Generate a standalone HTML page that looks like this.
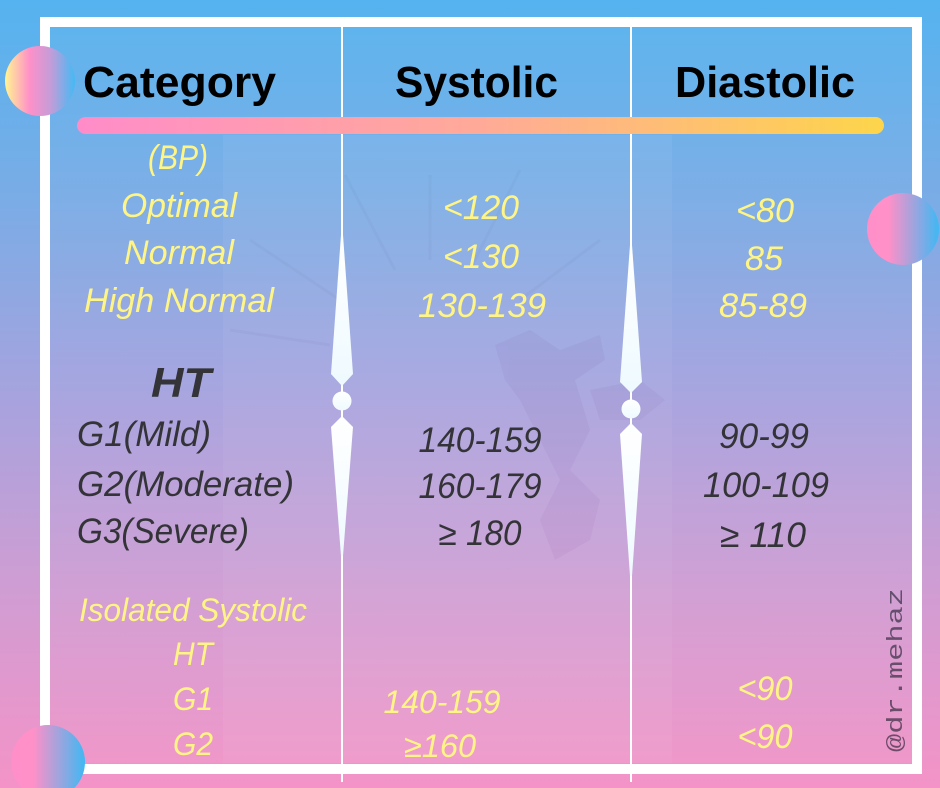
<!DOCTYPE html>
<html><head><meta charset="utf-8"><style>
html,body{margin:0;padding:0;width:940px;height:788px;overflow:hidden;}
svg{display:block;}
</style></head><body>
<svg width="940" height="788" viewBox="0 0 940 788" xmlns="http://www.w3.org/2000/svg">
<defs>
<linearGradient id="bg" x1="0" y1="0" x2="0" y2="1">
<stop offset="0" stop-color="#55b3ef"/>
<stop offset="0.25" stop-color="#7aace6"/>
<stop offset="0.5" stop-color="#a6a3de"/>
<stop offset="0.75" stop-color="#d09dd3"/>
<stop offset="1" stop-color="#f493c7"/>
</linearGradient>
<linearGradient id="bar" x1="0" y1="0" x2="1" y2="0">
<stop offset="0" stop-color="#ff8cc9"/>
<stop offset="0.5" stop-color="#ffaa98"/>
<stop offset="1" stop-color="#fdd54b"/>
</linearGradient>
<linearGradient id="c1" x1="0" y1="0" x2="1" y2="0">
<stop offset="0" stop-color="#fff592"/>
<stop offset="0.35" stop-color="#ff90c8"/>
<stop offset="0.65" stop-color="#c59cd8"/>
<stop offset="1" stop-color="#45b9f3"/>
</linearGradient>
<linearGradient id="c2" x1="0" y1="0" x2="1" y2="0">
<stop offset="0" stop-color="#ff8fc8"/>
<stop offset="0.3" stop-color="#ff90c8"/>
<stop offset="1" stop-color="#3fb8f3"/>
</linearGradient>
<linearGradient id="sp" x1="0" y1="0" x2="0" y2="1">
<stop offset="0" stop-color="#ffffff"/>
<stop offset="1" stop-color="#eefaff"/>
</linearGradient>
</defs>
<rect x="0" y="0" width="940" height="788" fill="url(#bg)"/>
<rect x="50" y="27" width="862" height="736" fill="#ffffff" opacity="0.03"/>
<rect x="223" y="135" width="449" height="628" fill="#ffffff" opacity="0.05"/>
<g opacity="0.05" stroke="#5a5a8a" stroke-width="3" fill="none">
<line x1="345" y1="175" x2="395" y2="270"/>
<line x1="430" y1="175" x2="430" y2="260"/>
<line x1="520" y1="170" x2="470" y2="270"/>
<line x1="250" y1="240" x2="340" y2="300"/>
<line x1="230" y1="330" x2="330" y2="345"/>
<line x1="600" y1="240" x2="520" y2="300"/>
</g>
<g opacity="0.07" fill="#7a4a9a">
<path d="M495 345 L530 330 L560 350 L600 335 L605 360 L575 380 L590 430 L570 470 L600 500 L590 540 L555 560 L540 520 L560 480 L540 440 L520 400 L505 380 Z"/>
<path d="M590 390 L640 380 L665 400 L640 420 L600 420 Z"/>
</g>
<rect x="45" y="22" width="872" height="747" fill="none" stroke="#ffffff" stroke-width="10"/>
<rect x="341" y="27" width="2" height="755" fill="#ffffff"/>
<rect x="630" y="27" width="2" height="755" fill="#ffffff"/>
<g fill="url(#sp)">
<polygon points="341,235 343,235 353,374 342,386 331,374"/>
<circle cx="342" cy="401" r="9.5"/>
<polygon points="342,416 353,427 343,556 341,556 331,427"/>
<polygon points="630,245 632,245 642,382 631,393 620,382"/>
<circle cx="631" cy="409" r="9.5"/>
<polygon points="631,423 642,434 632,576 630,576 620,434"/>
</g>
<rect x="77" y="117" width="807" height="17" rx="8.5" fill="url(#bar)"/>
<circle cx="40" cy="81" r="35" fill="url(#c1)"/>
<circle cx="903" cy="229" r="36" fill="url(#c2)"/>
<circle cx="48" cy="762" r="37" fill="url(#c2)"/>
<g font-family="Liberation Sans, sans-serif" font-weight="bold" font-size="44" fill="#000">
<text x="83" y="97" textLength="193" lengthAdjust="spacingAndGlyphs">Category</text>
<text x="395" y="97" textLength="163" lengthAdjust="spacingAndGlyphs">Systolic</text>
<text x="675" y="97" textLength="180" lengthAdjust="spacingAndGlyphs">Diastolic</text>
</g>
<g font-family="Liberation Sans, sans-serif" font-style="italic" fill="#fff585" font-size="34" text-anchor="middle">
<text x="178" y="169" textLength="60" lengthAdjust="spacingAndGlyphs">(BP)</text>
<text x="179" y="217" textLength="116" lengthAdjust="spacingAndGlyphs">Optimal</text>
<text x="179" y="264" textLength="110" lengthAdjust="spacingAndGlyphs">Normal</text>
<text x="179" y="312" textLength="190" lengthAdjust="spacingAndGlyphs">High Normal</text>
<text x="481" y="219" textLength="76" lengthAdjust="spacingAndGlyphs">&lt;120</text>
<text x="481" y="268" textLength="76" lengthAdjust="spacingAndGlyphs">&lt;130</text>
<text x="482" y="317" textLength="128" lengthAdjust="spacingAndGlyphs">130-139</text>
<text x="765" y="222" textLength="58" lengthAdjust="spacingAndGlyphs">&lt;80</text>
<text x="764" y="270" textLength="38" lengthAdjust="spacingAndGlyphs">85</text>
<text x="763" y="317" textLength="88" lengthAdjust="spacingAndGlyphs">85-89</text>
<g font-size="32">
<text x="193" y="621" textLength="228" lengthAdjust="spacingAndGlyphs">Isolated Systolic</text>
<text x="193" y="665" textLength="40" lengthAdjust="spacingAndGlyphs">HT</text>
<text x="193" y="710" textLength="40" lengthAdjust="spacingAndGlyphs">G1</text>
<text x="193" y="755" textLength="40" lengthAdjust="spacingAndGlyphs">G2</text>
<text x="442" y="713" textLength="117" lengthAdjust="spacingAndGlyphs">140-159</text>
<text x="440" y="757" textLength="72" lengthAdjust="spacingAndGlyphs">≥160</text>
</g>
<text x="765" y="700" textLength="55" lengthAdjust="spacingAndGlyphs">&lt;90</text>
<text x="765" y="748" textLength="55" lengthAdjust="spacingAndGlyphs">&lt;90</text>
</g>
<g font-family="Liberation Sans, sans-serif" font-style="italic" fill="#333338" font-size="35">
<text x="181" y="397" font-weight="bold" font-size="42" text-anchor="middle" textLength="60" lengthAdjust="spacingAndGlyphs">HT</text>
<text x="77" y="446" textLength="134" lengthAdjust="spacingAndGlyphs">G1(Mild)</text>
<text x="77" y="496" textLength="217" lengthAdjust="spacingAndGlyphs">G2(Moderate)</text>
<text x="77" y="543" textLength="172" lengthAdjust="spacingAndGlyphs">G3(Severe)</text>
<g text-anchor="middle">
<text x="480" y="452" textLength="123" lengthAdjust="spacingAndGlyphs">140-159</text>
<text x="480" y="498" textLength="123" lengthAdjust="spacingAndGlyphs">160-179</text>
<text x="480" y="545" textLength="83" lengthAdjust="spacingAndGlyphs">≥ 180</text>
<text x="764" y="448" textLength="90" lengthAdjust="spacingAndGlyphs">90-99</text>
<text x="766" y="497" textLength="126" lengthAdjust="spacingAndGlyphs">100-109</text>
<text x="763" y="547" textLength="86" lengthAdjust="spacingAndGlyphs">≥ 110</text>
</g>
</g>
<text transform="translate(902,752) rotate(-90)" font-family="Liberation Mono, monospace" font-size="22" fill="#1a1a2a" opacity="0.6" textLength="164" lengthAdjust="spacingAndGlyphs">@dr.mehaz</text>
</svg>
</body></html>
